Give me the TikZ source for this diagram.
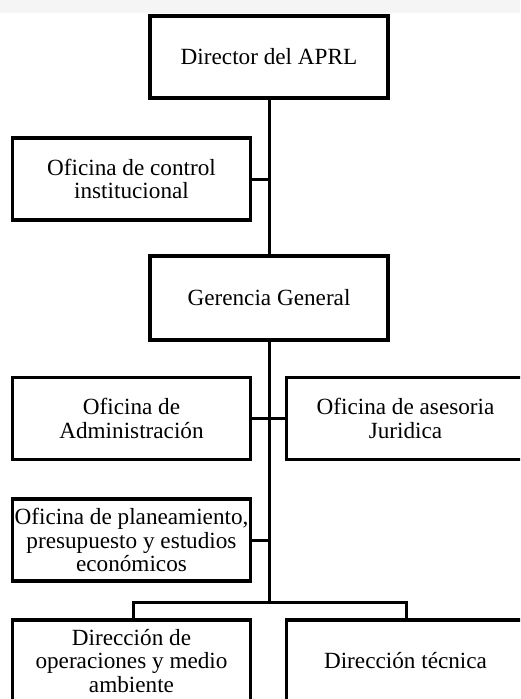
\documentclass[tikz,border=0pt]{standalone}
\usepackage{fontspec}
\setmainfont{Liberation Serif}
\begin{document}
\begin{tikzpicture}[x=1pt,y=-1pt,
  orgbox/.style={draw=black,line width=3.6pt,fill=white,align=center,
    minimum width=238pt,minimum height=82pt,inner sep=0pt,
    font=\fontsize{23.2}{23.5}\selectfont},
  link/.style={draw=black,line width=3pt}]
\useasboundingbox (0,0) rectangle (520,699);
\clip (0,0) rectangle (520,699);
\fill[white] (0,0) rectangle (520,699);
\fill[black!4] (0,0) rectangle (520,13);
\node[orgbox] (dir) at (269,57) {Director del APRL};
\node[orgbox] (ctl) at (131.5,179) {Oficina de control\\institucional};
\node[orgbox,minimum height=84pt] (ger) at (269,298) {Gerencia General};
\node[orgbox] (adm) at (131.5,418.5) {Oficina de\\Administración};
\node[orgbox] (jur) at (405.5,418.5) {Oficina de asesoria\\Juridica};
\node[orgbox] (pla) at (131.5,540) {Oficina de planeamiento,\\presupuesto y estudios\\económicos};
\node[orgbox] (ope) at (131.5,661) {Dirección de\\operaciones y medio\\ambiente};
\node[orgbox] (tec) at (405.5,661) {Dirección técnica};
\coordinate (bus) at (269,602);
\draw[link] (dir.south) -- (ger.north);
\draw[link] (ctl.east) -- (ctl.east -| dir.south);
\draw[link] (ger.south) -- (bus);
\draw[link] (adm.east) -- (jur.west);
\draw[link] (pla.east) -- (pla.east -| ger.south);
\draw[link] (ope.north -| 133,0) |- (bus) -| (tec.north -| 406,0);
\end{tikzpicture}
\end{document}
